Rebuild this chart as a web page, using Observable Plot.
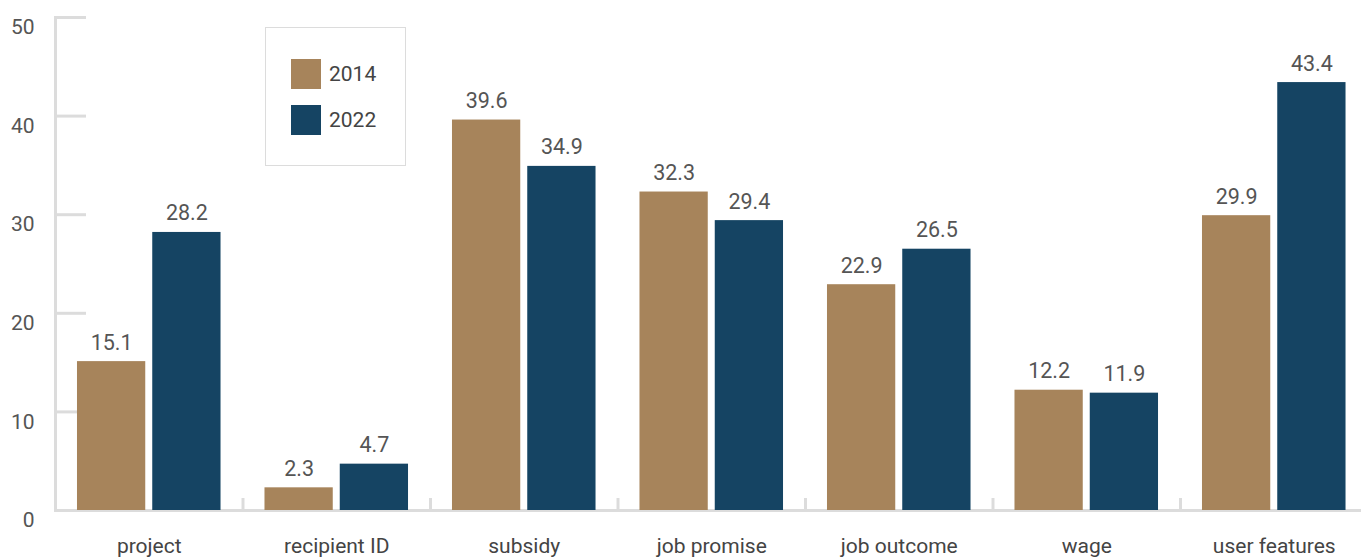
<!DOCTYPE html>
<html>
<head>
<meta charset="utf-8">
<script src="https://cdn.jsdelivr.net/npm/d3@7"></script>
<script src="https://cdn.jsdelivr.net/npm/@observablehq/plot@0.6"></script>
<style>
  html, body { margin: 0; padding: 0; background: #fff; overflow: hidden; }
  #wrap { position: relative; width: 1361px; height: 557px; overflow: hidden; font-family: Roboto, sans-serif; }
  #legend { position: absolute; left: 265px; top: 27px; width: 141px; height: 139px; box-sizing: border-box; border: 1.5px solid #dcdcdc; background: #fff; }
  .item { position: absolute; left: 25px; display: flex; align-items: center; font-size: 21px; color: #444; }
  .sw { width: 30px; height: 30px; margin-right: 8px; }
</style>
</head>
<body>
<div id="wrap"></div>
<script>
const categories = ["project", "recipient ID", "subsidy", "job promise", "job outcome", "wage", "user features"];
const years = ["2014", "2022"];
const values2014 = [15.1, 2.3, 39.6, 32.3, 22.9, 12.2, 29.9];
const values2022 = [28.2, 4.7, 34.9, 29.4, 26.5, 11.9, 43.4];
const yTicks = [0, 10, 20, 30, 40, 50];
const colors = ["#a7845b", "#154463"];

const data = categories.flatMap((c, i) => [
  {category: c, year: years[0], value: values2014[i]},
  {category: c, year: years[1], value: values2022[i]}
]);

const W = 1361, H = 557, mL = 55, mR = -6.5, mT = 17, mB = 47;
const facetW = (W - mL - mR) / categories.length;
const axisGray = "#dcdcdc";

const chart = Plot.plot({
  width: W, height: H,
  marginLeft: mL, marginRight: mR, marginTop: mT, marginBottom: mB,
  style: {fontFamily: "Roboto, sans-serif", fontSize: "21px", color: "#555", background: "white"},
  fx: {domain: categories, padding: 0, round: false, label: null},
  x: {domain: years, paddingInner: 0.093, paddingOuter: 0.292, round: false, axis: null},
  y: {domain: [0, 50], label: null},
  color: {domain: years, range: colors},
  marks: [
    Plot.frame({anchor: "left", facetAnchor: "left", stroke: axisGray, strokeWidth: 3}),
    Plot.frame({anchor: "bottom", stroke: axisGray, strokeWidth: 3}),
    Plot.frame({anchor: "left", insetTop: (H - mT - mB) - 11, stroke: axisGray, strokeWidth: 3}),
    Plot.ruleY(yTicks, {facetAnchor: "left", insetRight: facetW - 31, stroke: axisGray, strokeWidth: 3}),
    Plot.axisY({ticks: yTicks, tickSize: 0, tickPadding: 21, dy: 10, label: null, fontSize: 21, fill: "#555"}),
    Plot.axisFx({anchor: "bottom", tickSize: 0, tickPadding: 28, label: null, fontSize: 21, fill: "#444"}),
    Plot.barY(data, {fx: "category", x: "year", y: "value", fill: "year"}),
    Plot.text(data, {fx: "category", x: "year", y: "value", text: d => d.value.toFixed(1), dy: -12, lineAnchor: "bottom", fill: "#555", fontSize: 21.5})
  ]
});

const wrap = document.getElementById("wrap");
wrap.appendChild(chart);

const legend = document.createElement("div");
legend.id = "legend";
years.forEach((y, i) => {
  const item = document.createElement("div");
  item.className = "item";
  item.style.top = (31 + i * 46) + "px";
  const sw = document.createElement("div");
  sw.className = "sw";
  sw.style.background = colors[i];
  const t = document.createElement("span");
  t.textContent = y;
  item.appendChild(sw);
  item.appendChild(t);
  legend.appendChild(item);
});
wrap.appendChild(legend);
</script>
</body>
</html>
